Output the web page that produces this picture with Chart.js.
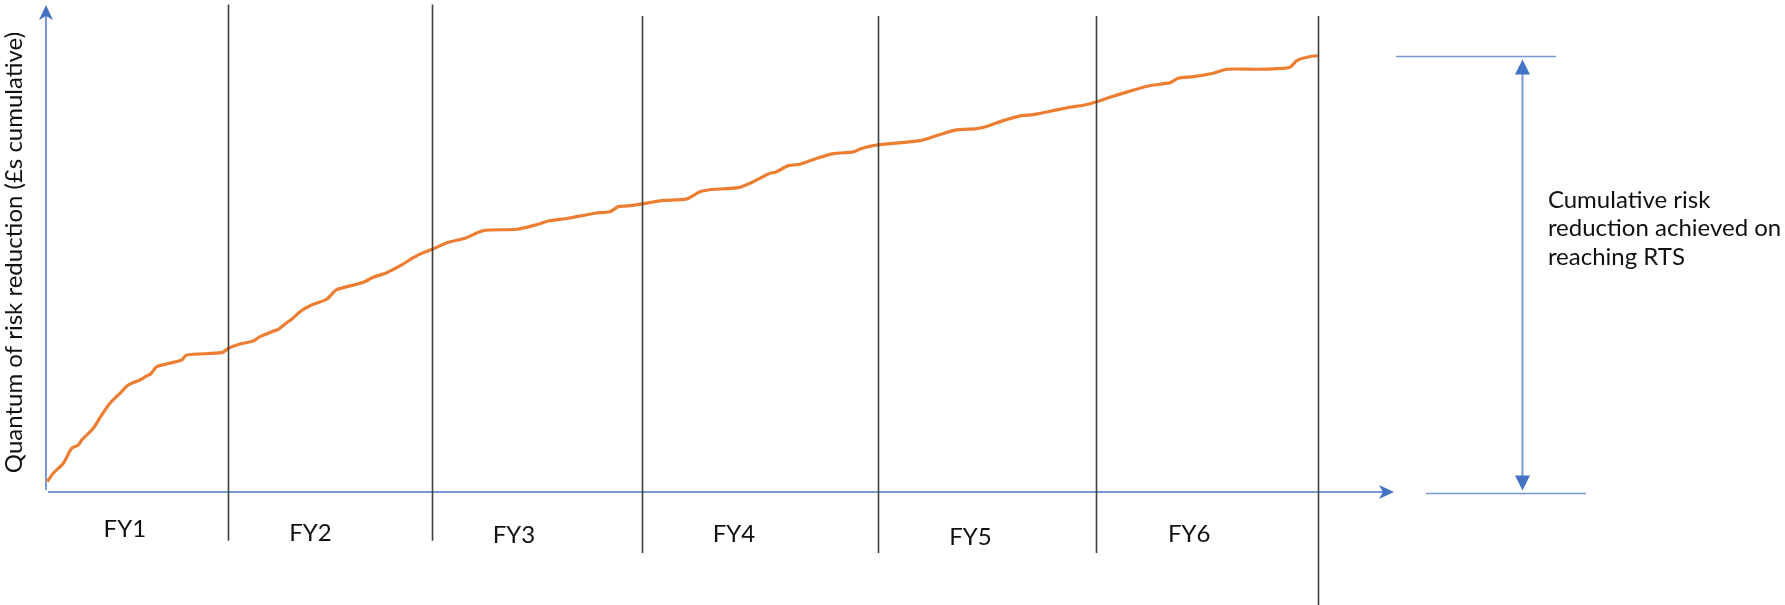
<!DOCTYPE html>
<html>
<head>
<meta charset="utf-8">
<script src="https://cdn.jsdelivr.net/npm/chart.js@4.4.1/dist/chart.umd.min.js"></script>
<style>
  html, body { margin: 0; padding: 0; background: #ffffff; }
  #wrap { width: 1785px; height: 605px; position: relative; }
</style>
</head>
<body>
<div id="wrap"><canvas id="chart" width="1785" height="605"></canvas></div>
<script>
// Financial years shown along the programme timeline
const fyLabels = ['FY1', 'FY2', 'FY3', 'FY4', 'FY5', 'FY6'];

// End of each financial year, as % of programme duration to RTS
const yearEnds = [14.31, 30.33, 46.87, 65.42, 82.54, 100];

// Programme progress (% of duration) and cumulative risk reduction (% of total at RTS)
const progress = [
  0.1, 0.57, 1.36, 2.02, 2.54, 2.81, 3.72, 4.38, 5.03, 5.82,
  6.47, 7.39, 7.92, 8.23, 8.71, 9.49, 10.67, 11.06, 13.82, 14.34,
  15.26, 16.30, 16.83, 17.75, 18.27, 18.93, 19.32, 19.97, 20.89, 22.07,
  22.80, 23.38, 24.95, 25.74, 26.79, 27.97, 28.88, 29.67, 30.38, 31.64,
  32.95, 34.39, 37.01, 38.71, 39.50, 41.07, 43.17, 44.35, 45.00, 45.79,
  46.84, 48.42, 50.38, 51.43, 52.61, 54.44, 55.62, 56.80, 57.46, 58.37,
  59.29, 60.47, 61.91, 63.48, 64.01, 65.40, 68.73, 70.17, 71.61, 73.19,
  74.10, 75.28, 76.59, 77.64, 79.48, 80.52, 81.57, 82.57, 83.67, 85.11,
  86.68, 88.39, 89.04, 90.22, 91.79, 92.84, 95.20, 96.78, 97.82, 98.35,
  99.13, 100
];
const riskReduction = [
  2.4, 4.29, 6.58, 10.02, 10.77, 11.92, 14.60, 17.65, 20.33, 22.62,
  24.52, 25.67, 26.59, 27.05, 28.72, 29.34, 30.25, 31.40, 31.93, 32.94,
  33.92, 34.61, 35.59, 36.74, 37.29, 38.80, 39.58, 41.32, 42.86, 44.17,
  46.30, 46.83, 48.06, 49.21, 50.26, 52.03, 53.70, 54.85, 55.63, 57.23,
  58.15, 59.89, 60.21, 61.36, 62.11, 62.73, 63.88, 64.24, 65.39, 65.55,
  66.01, 66.77, 67.16, 68.83, 69.38, 69.75, 71.12, 72.89, 73.41, 74.79,
  75.11, 76.32, 77.54, 77.93, 78.62, 79.53, 80.52, 81.82, 82.97, 83.27,
  83.89, 85.10, 86.18, 86.48, 87.56, 88.17, 88.63, 89.39, 90.46, 91.75,
  93.05, 93.81, 94.82, 95.19, 95.97, 96.88, 96.88, 97.02, 97.34, 98.85,
  99.63, 100
];

// Total risk reduction reached at RTS
const rtsLevel = 100;

const axisTitle = 'Quantum of risk reduction (£s cumulative)';
const noteLines = ['Cumulative risk', 'reduction achieved on', 'reaching RTS'];

// ---- drawing styles ----
const AXIS_BLUE = '#7898d2';
const ARROW_BLUE = '#4472c4';
const YEAR_LINE = '#3f3f3f';
const CURVE = '#ed7d31';
const FONT = '"Lato", "Open Sans", sans-serif';
const TEXT_SIZE = 24;

// vertical extent of each year divider (in value units of the y scale)
const dividerTop = [111.7, 111.7, 109.1, 109.1, 109.1, 109.1];
const dividerBottom = [-11.2, -11.2, -14.0, -14.0, -14.0, -25.9];
// label anchors for each year (x in progress %, y in value units)
const fyLabelAt = [
  [6.2, -8.5], [20.8, -9.5], [36.8, -9.9], [54.1, -9.7], [72.7, -10.3], [89.9, -9.6]
];

function stealthHead(ctx, tx, ty, dir, len, half, notch) {
  ctx.beginPath();
  if (dir === 'right') {
    ctx.moveTo(tx, ty);
    ctx.lineTo(tx - len, ty - half);
    ctx.lineTo(tx - len + notch, ty);
    ctx.lineTo(tx - len, ty + half);
  } else {
    ctx.moveTo(tx, ty);
    ctx.lineTo(tx - half, ty + len);
    ctx.lineTo(tx, ty + len - notch);
    ctx.lineTo(tx + half, ty + len);
  }
  ctx.closePath();
  ctx.fill();
}

function triHead(ctx, tx, ty, up, len, half) {
  ctx.beginPath();
  ctx.moveTo(tx, ty);
  ctx.lineTo(tx - half, ty + (up ? len : -len));
  ctx.lineTo(tx + half, ty + (up ? len : -len));
  ctx.closePath();
  ctx.fill();
}

const diagram = {
  id: 'diagram',
  beforeDatasetsDraw(chart) {
    const { ctx, scales: { x, y } } = chart;
    const ox = x.getPixelForValue(0);
    const oy = y.getPixelForValue(0);
    const xEnd = x.getPixelForValue(x.max);
    const yTop = y.getPixelForValue(y.max);
    ctx.save();
    ctx.strokeStyle = AXIS_BLUE;
    ctx.fillStyle = ARROW_BLUE;
    ctx.lineWidth = 2;
    // value axis
    ctx.beginPath();
    ctx.moveTo(ox, oy - 2);
    ctx.lineTo(ox, yTop + 10);
    ctx.stroke();
    stealthHead(ctx, ox, yTop, 'up', 15, 7, 4);
    // time axis
    ctx.beginPath();
    ctx.moveTo(ox + 2, oy);
    ctx.lineTo(xEnd - 10, oy);
    ctx.stroke();
    stealthHead(ctx, xEnd, oy, 'right', 15, 7, 4);
    ctx.restore();
  },
  afterDatasetsDraw(chart) {
    const { ctx, scales: { x, y } } = chart;
    ctx.save();
    // year dividers
    ctx.strokeStyle = YEAR_LINE;
    ctx.lineWidth = 1.6;
    yearEnds.forEach((v, i) => {
      const px = Math.round(x.getPixelForValue(v)) + 0.5;
      ctx.beginPath();
      ctx.moveTo(px, y.getPixelForValue(dividerTop[i]));
      ctx.lineTo(px, y.getPixelForValue(dividerBottom[i]));
      ctx.stroke();
    });
    // year labels
    ctx.fillStyle = '#111111';
    ctx.font = TEXT_SIZE + 'px ' + FONT;
    ctx.textAlign = 'center';
    ctx.textBaseline = 'middle';
    fyLabels.forEach((t, i) => {
      ctx.fillText(t, x.getPixelForValue(fyLabelAt[i][0]), y.getPixelForValue(fyLabelAt[i][1]));
    });
    // value axis title
    ctx.save();
    ctx.translate(14, (y.getPixelForValue(y.max) + y.getPixelForValue(0)) / 2 + 4);
    ctx.rotate(-Math.PI / 2);
    ctx.fillText(axisTitle, 0, 0);
    ctx.restore();

    // RTS span marker
    const topY = Math.round(y.getPixelForValue(rtsLevel)) + 0.5;
    const botY = Math.round(y.getPixelForValue(0)) + 1.5;
    ctx.strokeStyle = AXIS_BLUE;
    ctx.lineWidth = 1.6;
    ctx.beginPath();
    ctx.moveTo(x.getPixelForValue(106.16), topY);
    ctx.lineTo(x.getPixelForValue(118.74), topY);
    ctx.moveTo(x.getPixelForValue(108.52), botY);
    ctx.lineTo(x.getPixelForValue(121.10), botY);
    ctx.stroke();
    const ax = Math.round(x.getPixelForValue(116.04)) + 0.5;
    ctx.lineWidth = 2;
    ctx.beginPath();
    ctx.moveTo(ax, topY + 12);
    ctx.lineTo(ax, botY - 12);
    ctx.stroke();
    ctx.fillStyle = ARROW_BLUE;
    triHead(ctx, ax, topY + 3, true, 15, 7.5);
    triHead(ctx, ax, botY - 3, false, 15, 7.5);

    // note
    ctx.fillStyle = '#111111';
    ctx.font = TEXT_SIZE + 'px ' + FONT;
    ctx.textAlign = 'left';
    ctx.textBaseline = 'alphabetic';
    const noteX = x.getPixelForValue(118.1);
    noteLines.forEach((t, i) => {
      ctx.fillText(t, noteX, topY + 151 + i * 28.6);
    });
    ctx.restore();
  }
};

new Chart(document.getElementById('chart'), {
  type: 'line',
  data: {
    datasets: [{
      data: progress.map((p, i) => ({ x: p, y: riskReduction[i] })),
      borderColor: CURVE,
      borderWidth: 3.2,
      pointRadius: 0,
      tension: 0.25,
      fill: false,
      clip: false
    }]
  },
  options: {
    responsive: false,
    animation: false,
    devicePixelRatio: 1,
    layout: { padding: { left: 46, right: 391, top: 5, bottom: 113 } },
    plugins: { legend: { display: false }, tooltip: { enabled: false } },
    scales: {
      x: { type: 'linear', min: 0, max: 106, display: false },
      y: { type: 'linear', min: 0, max: 111.6, display: false }
    }
  },
  plugins: [diagram]
});
</script>
</body>
</html>
